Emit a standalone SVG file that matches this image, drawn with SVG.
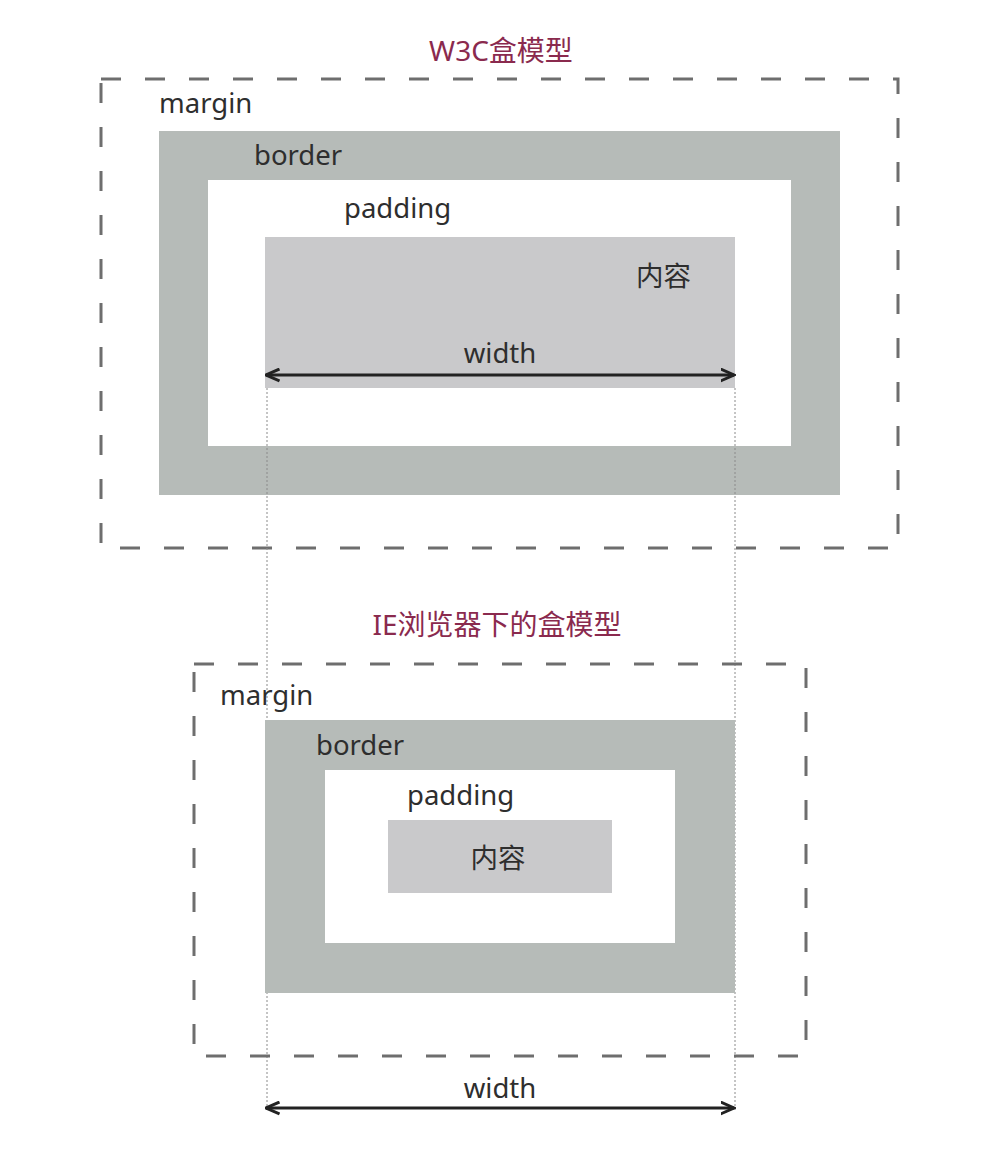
<svg xmlns="http://www.w3.org/2000/svg" width="1000" height="1150" viewBox="0 0 1000 1150">
<style>
.title{font-family:"Noto Sans","Noto Sans CJK SC",sans-serif;font-size:28px;fill:#8a2a4e}
.lbl{font-family:"Noto Sans","Noto Sans CJK SC",sans-serif;font-size:27.5px;fill:#2e2e2e}
.margin{fill:none;stroke:#6e6e6e;stroke-width:3;stroke-dasharray:20 24}
.border{fill:#b6bbb8}
.padding{fill:#ffffff}
.content{fill:#c9c9cb}
.guide{stroke:#8a8a8a;stroke-width:1;stroke-dasharray:2 2;fill:none}
.dim{stroke:#222;stroke-width:3;fill:none;marker-start:url(#ah);marker-end:url(#ah)}
</style>
<defs>
<marker id="ah" viewBox="0 0 10 10" refX="9" refY="5" markerWidth="5" markerHeight="5" orient="auto-start-reverse" markerUnits="strokeWidth">
<path d="M0,1 L9,5 L0,9" fill="none" stroke="#222" stroke-width="2"/>
</marker>
</defs>
<rect width="1000" height="1150" fill="#ffffff"/>

<g id="w3c-model">
<text class="title" x="501" y="61" text-anchor="middle">W3C盒模型</text>
<rect class="margin" x="101" y="79" width="797" height="469"/>
<text class="lbl" x="159" y="113">margin</text>
<rect class="border" x="159" y="131" width="681" height="364"/>
<text class="lbl" x="254" y="165">border</text>
<rect class="padding" x="208" y="180" width="583" height="266"/>
<text class="lbl" x="344" y="218">padding</text>
<rect class="content" x="265" y="237" width="470" height="151"/>
<text class="lbl" x="636" y="286">内容</text>
<text class="lbl" x="500" y="363" text-anchor="middle">width</text>
</g>

<g id="connectors">
<line class="guide" x1="267" y1="388" x2="267" y2="1110"/>
<line class="guide" x1="735" y1="388" x2="735" y2="1110"/>
<line class="dim" x1="266" y1="375" x2="734" y2="375"/>
<line class="dim" x1="266" y1="1108" x2="734" y2="1108"/>
</g>

<g id="ie-model">
<text class="title" x="497" y="635" text-anchor="middle">IE浏览器下的盒模型</text>
<rect class="margin" x="194" y="664" width="612" height="392"/>
<text class="lbl" x="220" y="705">margin</text>
<rect class="border" x="265" y="720" width="470" height="273"/>
<text class="lbl" x="316" y="755">border</text>
<rect class="padding" x="325" y="770" width="350" height="173"/>
<text class="lbl" x="407" y="805">padding</text>
<rect class="content" x="388" y="820" width="224" height="73"/>
<text class="lbl" x="498" y="868" text-anchor="middle">内容</text>
<text class="lbl" x="500" y="1098" text-anchor="middle">width</text>
</g>
</svg>
